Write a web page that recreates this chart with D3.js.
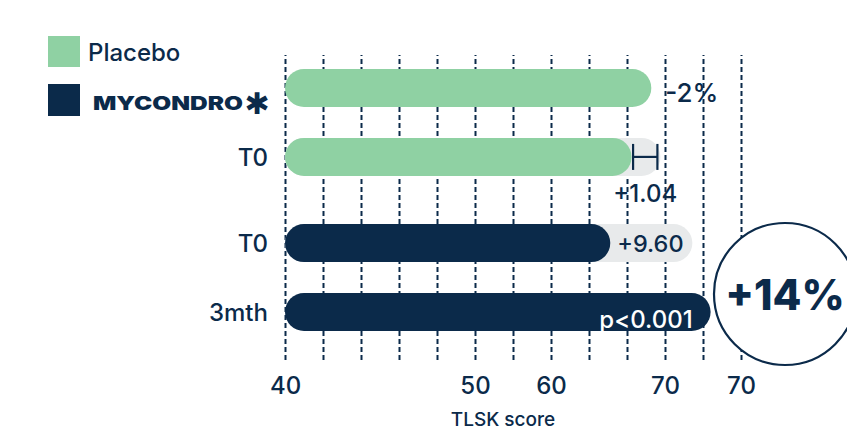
<!DOCTYPE html>
<html>
<head>
<meta charset="utf-8">
<script src="https://cdn.jsdelivr.net/npm/d3@7"></script>
<style>
  html, body { margin: 0; padding: 0; background: #ffffff; }
  svg { display: block; }
  text { font-family: Inter, "Noto Sans", sans-serif; }
</style>
</head>
<body>
<div id="chart"></div>
<script>
// TLSK score, placebo vs MYCONDRO, baseline and 3 months
const rowLabels = ["", "T0", "T0", "3mth"];
const rowGroups = ["Placebo", "Placebo", "MYCONDRO", "MYCONDRO"];
const scores = [64.1, 62.8, 61.4, 68.0];
const shadowEnds = [null, 64.7, 66.8, null];
const errorLow = [null, 62.9, null, null];
const errorHigh = [null, 64.5, null, null];

const gridValues = [40, 42.5, 45, 47.5, 50, 52.5, 55, 57.5, 60, 62.5, 65, 67.5, 70];
const tickLabels = ["40", "", "", "", "", "50", "", "60", "", "", "70", "", "70"];

const legendItems = ["Placebo", "MYCONDRO"];
const changeTexts = ["-2%", "+1.04", "+9.60", "p<0.001"];
const headline = "+14%";
const axisTitle = "TLSK score";

const W = 847, H = 430;
const navy = "#0b2a4a";
const green = "#8fd1a3";
const grey = "#e8eaeb";
const colorOf = { "Placebo": green, "MYCONDRO": navy };
const baseWeight = 500;

const svg = d3.select("#chart").append("svg")
  .attr("width", W).attr("height", H);

const x = d3.scaleLinear().domain([40, 70]).range([285, 741]);
// rows are grouped: a small extra gap separates the two groups
const slot = i => i + (rowGroups[i] === "MYCONDRO" ? 0.25 : 0);
const y = d3.scaleLinear().domain([0, 3.25]).range([88, 312]);
const barH = 38;

// ---- legend ----
const legend = svg.append("g");
legend.append("rect").attr("x", 48).attr("y", 36).attr("width", 32).attr("height", 31)
  .attr("fill", colorOf[legendItems[0]]);
legend.append("text").attr("x", 88).attr("y", 61)
  .attr("font-size", 24).style("font-weight", baseWeight).attr("fill", navy).text(legendItems[0]);
legend.append("rect").attr("x", 48).attr("y", 84).attr("width", 32).attr("height", 32)
  .attr("fill", colorOf[legendItems[1]]);
legend.append("text").attr("x", 93).attr("y", 110)
  .attr("font-size", 19).style("font-weight", 900).attr("fill", navy)
  .attr("textLength", 150).attr("lengthAdjust", "spacingAndGlyphs")
  .text(legendItems[1]);
legend.append("text").attr("x", 257).attr("y", 114).attr("text-anchor", "middle")
  .style("font-family", "'DejaVu Sans'").attr("font-size", 30).style("font-weight", 700)
  .attr("fill", navy).text("\u2731");

// ---- annotations that sit beneath the grid ----
svg.append("text")
  .attr("x", x(scores[0]) + 14).attr("y", y(slot(0)) + 14)
  .attr("font-size", 26).style("font-weight", baseWeight).attr("fill", navy).text(changeTexts[0]);
svg.append("text")
  .attr("x", x((errorLow[1] + errorHigh[1]) / 2)).attr("y", y(slot(1)) + 45)
  .attr("text-anchor", "middle")
  .attr("font-size", 24).style("font-weight", baseWeight).attr("fill", navy).text(changeTexts[1]);

// ---- dashed grid and axis ----
const gridTop = 55, gridBottom = 360;
const axis = d3.axisBottom(x)
  .tickValues(gridValues)
  .tickSize(-(gridBottom - gridTop))
  .tickPadding(17)
  .tickFormat((d, i) => tickLabels[i]);
const ag = svg.append("g").attr("transform", `translate(0,${gridBottom})`).call(axis);
ag.select(".domain").remove();
ag.selectAll(".tick line")
  .attr("stroke", navy).attr("stroke-width", 2).attr("stroke-dasharray", "5,3");
ag.selectAll(".tick text")
  .attr("font-size", 24).attr("fill", navy)
  .style("font-family", "Inter, 'Noto Sans', sans-serif").style("font-weight", baseWeight);

svg.append("text").attr("x", 503).attr("y", 426).attr("text-anchor", "middle")
  .attr("font-size", 19).style("font-weight", baseWeight).attr("fill", navy).text(axisTitle);

// ---- row labels ----
svg.selectAll(".rowlab").data(rowLabels).join("text")
  .attr("class", "rowlab")
  .attr("x", 268).attr("y", (d, i) => y(slot(i)) + 9)
  .attr("text-anchor", "end").attr("font-size", 24).style("font-weight", baseWeight)
  .attr("fill", navy)
  .text(d => d);

// ---- grey change pills behind the bars ----
const idx = d3.range(scores.length);
svg.selectAll(".shadow").data(idx.filter(i => shadowEnds[i] != null)).join("rect")
  .attr("class", "shadow")
  .attr("x", x(40)).attr("y", i => y(slot(i)) - barH / 2)
  .attr("width", i => x(shadowEnds[i]) - x(40)).attr("height", barH)
  .attr("rx", barH / 2).attr("fill", grey);

// ---- bars ----
svg.selectAll(".bar").data(idx).join("rect")
  .attr("class", "bar")
  .attr("x", x(40)).attr("y", i => y(slot(i)) - barH / 2)
  .attr("width", i => x(scores[i]) - x(40)).attr("height", barH)
  .attr("rx", barH / 2).attr("fill", i => colorOf[rowGroups[i]]);

// ---- error bar ----
const eb = svg.append("g").attr("stroke", navy).attr("stroke-width", 2.2).attr("fill", "none");
idx.filter(i => errorLow[i] != null).forEach(i => {
  const cy = y(slot(i));
  eb.append("line").attr("x1", x(errorLow[i])).attr("x2", x(errorHigh[i])).attr("y1", cy).attr("y2", cy);
  eb.append("line").attr("x1", x(errorLow[i])).attr("x2", x(errorLow[i])).attr("y1", cy - 13).attr("y2", cy + 13);
  eb.append("line").attr("x1", x(errorHigh[i])).attr("x2", x(errorHigh[i])).attr("y1", cy - 13).attr("y2", cy + 13);
});

// ---- labels on the bars ----
svg.append("text")
  .attr("x", x(scores[2]) + 7).attr("y", y(slot(2)) + 9)
  .attr("font-size", 23.5).style("font-weight", baseWeight).attr("fill", navy).text(changeTexts[2]);
svg.append("text")
  .attr("x", x(scores[3]) - 18).attr("y", y(slot(3)) + 16)
  .attr("text-anchor", "end")
  .attr("font-size", 24).style("font-weight", baseWeight).attr("fill", "#ffffff").text(changeTexts[3]);

// ---- headline circle ----
svg.append("circle").attr("cx", 785).attr("cy", 294).attr("r", 71)
  .attr("fill", "#ffffff").attr("stroke", navy).attr("stroke-width", 2.2);
svg.append("text").attr("x", 785).attr("y", 310).attr("text-anchor", "middle")
  .attr("font-size", 42).style("font-weight", 800).attr("fill", navy).text(headline);
</script>
</body>
</html>
